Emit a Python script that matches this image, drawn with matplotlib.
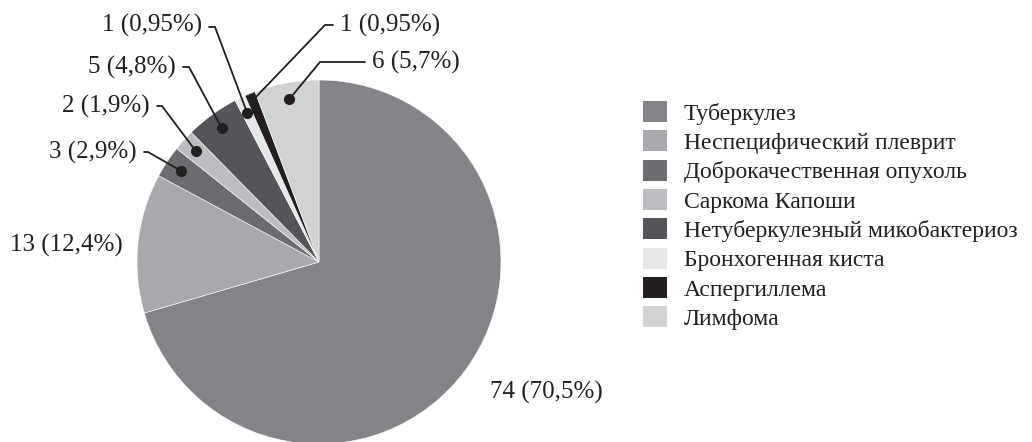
import matplotlib
matplotlib.use('Agg')
import matplotlib.pyplot as plt
from matplotlib.patches import Patch
import numpy as np

# data
categories = ['Туберкулез', 'Неспецифический плеврит', 'Доброкачественная опухоль',
              'Саркома Капоши', 'Нетуберкулезный микобактериоз', 'Бронхогенная киста',
              'Аспергиллема', 'Лимфома']
counts = [74, 13, 3, 2, 5, 1, 1, 6]
pct_labels = ['74 (70,5%)', '13 (12,4%)', '3 (2,9%)', '2 (1,9%)', '5 (4,8%)',
              '1 (0,95%)', '1 (0,95%)', '6 (5,7%)']
colors = ['#838488', '#a8a9ad', '#6b6c70', '#bcbdc1', '#545558', '#e6e7e9',
          '#231f20', '#d1d2d4']

plt.rcParams['font.family'] = ['Liberation Serif', 'DejaVu Serif']

W, H = 1032, 442
CX, CY, R = 319, 262, 182

fig = plt.figure(figsize=(W / 100, H / 100), dpi=100)
ax = fig.add_axes([0, 0, 1, 1])
wedges, _ = ax.pie(counts, colors=colors, startangle=90, counterclock=False,
                   radius=1, center=(0, 0),
                   wedgeprops=dict(linewidth=0.4, edgecolor='white'))
ax.set_aspect('auto')
ax.set_xlim(-CX / R, (W - CX) / R)
ax.set_ylim(-(H - CY) / R, CY / R)
ax.axis('off')


def px(x, y):
    return (x - CX) / R, (CY - y) / R


# leader lines: index -> (elbow px, text end px, ha)
leaders = {
    2: ((148, 152), (137, 152), 'right'),
    3: ((162, 106), (150, 106), 'right'),
    4: ((189, 67), (176, 67), 'right'),
    5: ((215, 27), (202, 25), 'right'),
    6: ((325, 25), (340, 25), 'left'),
    7: ((320, 62), (372, 62), 'left'),
}
fs = 18
for i, (elbow, tpos, ha) in leaders.items():
    w = wedges[i]
    th = np.deg2rad((w.theta1 + w.theta2) / 2)
    r = 0.96 if i == 6 else 0.91
    dx, dy = r * np.cos(th), r * np.sin(th)
    ex, ey = px(*elbow)
    tx, ty = px(*tpos)
    hx = tx + (0.04 if ha == 'right' else -0.04)
    ax.plot([dx, ex, hx], [dy, ey, ey], color='#231f20', lw=1.3,
            solid_joinstyle='miter')
    if i != 6:
        ax.plot(dx, dy, 'o', color='#231f20', ms=7)
    ax.text(tx, ty, pct_labels[i], ha=ha, va='center', fontsize=fs,
            color='#231f20')

ax.text(*px(10, 245), pct_labels[1], ha='left', va='center', fontsize=fs,
        color='#231f20')
ax.text(*px(490, 392), pct_labels[0], ha='left', va='center', fontsize=fs,
        color='#231f20')

handles = [Patch(facecolor=c, edgecolor='none') for c in colors]
fig.legend(handles, categories, loc='upper left',
           bbox_to_anchor=(643 / W, 1 - 101 / H), frameon=False,
           fontsize=17, handlelength=1.0, handleheight=1.0,
           handletextpad=0.72, labelspacing=0.24, borderpad=0,
           borderaxespad=0, labelcolor='#231f20')

fig.savefig('out.png', dpi=100)
